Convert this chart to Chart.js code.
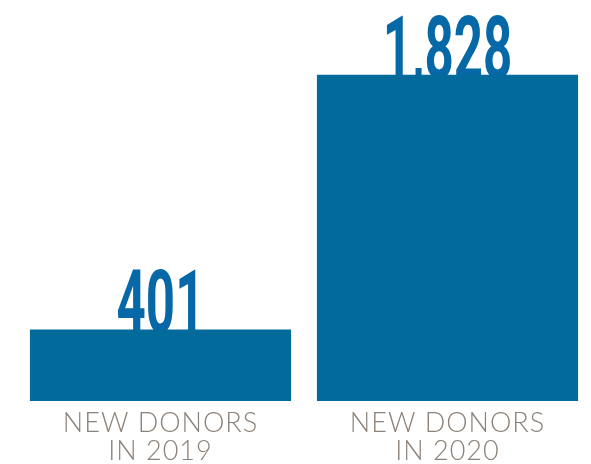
<!DOCTYPE html>
<html>
<head>
<meta charset="utf-8">
<script src="https://cdn.jsdelivr.net/npm/chart.js@4/dist/chart.umd.min.js"></script>
<style>
html,body{margin:0;padding:0;background:#fff;}
#wrap{width:591px;height:464px;position:relative;}
</style>
</head>
<body>
<div id="wrap"><canvas id="c" width="591" height="464"></canvas></div>
<script>
const categories = [["NEW DONORS", "IN 2019"], ["NEW DONORS", "IN 2020"]];
const newDonors = [401, 1828];
const valueLabels = ["401", "1,828"];

const BAR_COLOR = "#036a9c";
const VALUE_COLOR = "#0668a6";
const LABEL_COLOR = "#8c8279";

const spacingPlugin = {
  id: "tickSpacing",
  beforeDraw(chart) { chart.ctx.letterSpacing = "1px"; },
  beforeDatasetsDraw(chart) { chart.ctx.letterSpacing = "0px"; }
};

const valueLabelPlugin = {
  id: "valueLabels",
  beforeDatasetsDraw(chart) {
    const ctx = chart.ctx;
    const meta = chart.getDatasetMeta(0);
    ctx.save();
    ctx.letterSpacing = "0px";
    ctx.fillStyle = VALUE_COLOR;
    ctx.font = "700 88px Roboto";
    ctx.textAlign = "center";
    ctx.textBaseline = "alphabetic";
    meta.data.forEach((bar, i) => {
      ctx.save();
      ctx.translate(bar.x, bar.y + 3);
      ctx.scale(0.58, 1);
      ctx.fillText(valueLabels[i], 0, 0);
      ctx.restore();
    });
    ctx.restore();
  }
};

new Chart(document.getElementById("c"), {
  type: "bar",
  data: {
    labels: categories,
    datasets: [{
      data: newDonors,
      backgroundColor: BAR_COLOR,
      borderWidth: 0,
      barPercentage: 0.91,
      categoryPercentage: 1.0
    }]
  },
  options: {
    responsive: false,
    animation: false,
    layout: { padding: { left: 17, right: 0, top: 44, bottom: 0 } },
    plugins: { legend: { display: false }, tooltip: { enabled: false } },
    scales: {
      x: {
        grid: { display: false },
        border: { display: false },
        ticks: {
          color: LABEL_COLOR,
          font: { family: "Lato", size: 27, weight: 300, lineHeight: 1.04 },
          padding: 0,
          maxRotation: 0,
          autoSkip: false
        },
        afterFit(scale) { scale.height = 63; }
      },
      y: {
        display: false,
        min: 0,
        max: 2000
      }
    }
  },
  plugins: [spacingPlugin, valueLabelPlugin]
});
</script>
</body>
</html>
